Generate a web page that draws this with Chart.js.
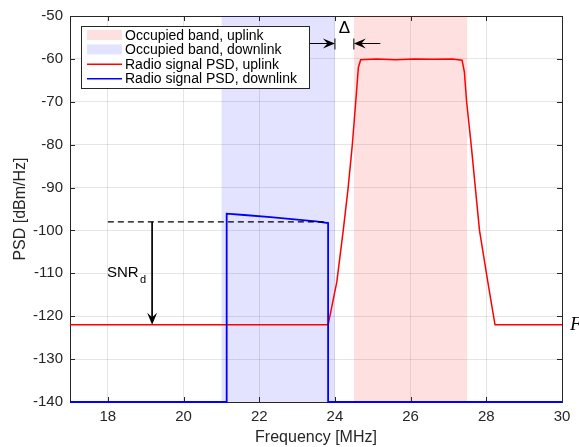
<!DOCTYPE html>
<html lang="en">
<head>
<meta charset="UTF-8" />
<title>PSD uplink / downlink</title>
<script src="https://cdn.jsdelivr.net/npm/chart.js"></script>
<style>
  html, body { margin: 0; padding: 0; background: #ffffff; }
  .chart { position: relative; width: 579px; height: 447px; }
</style>
</head>
<body>
<div class="chart"><canvas id="psdChart"></canvas></div>
<script>
// tick labels
const xTicks = [18, 20, 22, 24, 26, 28, 30];
const yTicks = [-140, -130, -120, -110, -100, -90, -80, -70, -60, -50];

// occupied bands [MHz]
const ulBand = [24.5, 27.5];
const dlBand = [21, 24];

// radio signal PSD, uplink
const ulFreq = [17, 23.82, 24.05, 24.22, 24.35, 24.46, 24.55, 24.62, 24.68, 25.1, 25.6, 26.1, 26.6, 27.1, 27.36, 27.42, 27.48, 27.6, 27.71, 27.82, 28.04, 28.23, 30];
const ulPsd = [-122, -122, -112, -100, -90, -80, -70, -62, -60.2, -60.0, -60.2, -60.0, -60.1, -60.0, -60.3, -63, -70, -80, -90, -100, -112, -122, -122];

// radio signal PSD, downlink
const dlFreq = [17, 21.14, 21.14, 21.6, 22.3, 23.0, 23.5, 23.82, 23.82, 30];
const dlPsd = [-140, -140, -96.1, -96.4, -96.9, -97.5, -97.9, -98.3, -140, -140];

// annotations
const snrLevel = -98;
const noiseLevel = -122;
const dashedFreq = [18, 23.82];
const snrArrowFreq = 19.17;
const deltaY = -56.3;

const font = "'Liberation Sans', Arial, Helvetica, sans-serif";
const ink = "#262626";
const ulShade = "rgba(255,0,0,0.12)";
const dlShade = "rgba(0,0,255,0.11)";

function bandData(b) {
  return [{ x: b[0], y: -50 }, { x: b[1], y: -50 }];
}
function pts(xs, ys) {
  return xs.map((x, i) => ({ x: x, y: ys[i] }));
}

function arrowHead(ctx, tx, ty, dir) {
  // dir: angle of pointing direction (radians)
  const len = 12, half = 5, back = 7.5;
  ctx.save();
  ctx.translate(tx, ty);
  ctx.rotate(dir);
  ctx.beginPath();
  ctx.moveTo(0, 0);
  ctx.lineTo(-len, -half);
  ctx.lineTo(-back, 0);
  ctx.lineTo(-len, half);
  ctx.closePath();
  ctx.fillStyle = "#000";
  ctx.fill();
  ctx.restore();
}

const decorations = {
  id: "decorations",
  beforeDatasetsDraw(chart) {
    const ctx = chart.ctx;
    const a = chart.chartArea;
    const X = chart.scales.x, Y = chart.scales.y;
    ctx.save();
    ctx.strokeStyle = ink;
    ctx.lineWidth = 1;
    ctx.beginPath();
    xTicks.forEach((v) => {
      const px = Math.round(X.getPixelForValue(v)) + 0.5;
      ctx.moveTo(px, a.bottom); ctx.lineTo(px, a.bottom - 5);
      ctx.moveTo(px, a.top); ctx.lineTo(px, a.top + 5);
    });
    yTicks.forEach((v) => {
      const py = Math.round(Y.getPixelForValue(v)) + 0.5;
      ctx.moveTo(a.left, py); ctx.lineTo(a.left + 5, py);
      ctx.moveTo(a.right, py); ctx.lineTo(a.right - 5, py);
    });
    ctx.stroke();
    ctx.strokeRect(Math.round(a.left) + 0.5, Math.round(a.top) + 0.5,
      Math.round(a.right - a.left), Math.round(a.bottom - a.top));
    ctx.restore();
  },
  afterDatasetsDraw(chart) {
    const ctx = chart.ctx;
    const a = chart.chartArea;
    const X = chart.scales.x, Y = chart.scales.y;
    ctx.save();

    // SNR_d arrow head + label
    arrowHead(ctx, X.getPixelForValue(snrArrowFreq), Y.getPixelForValue(noiseLevel), Math.PI / 2);
    ctx.fillStyle = "#000";
    ctx.font = "15px " + font;
    ctx.textBaseline = "alphabetic";
    ctx.textAlign = "left";
    ctx.fillText("SNR", 107, 277);
    ctx.font = "11px " + font;
    ctx.fillText("d", 140, 283);

    // Delta arrows
    const dy = Math.round(Y.getPixelForValue(deltaY)) + 0.5;
    const x24 = X.getPixelForValue(dlBand[1]);
    const x245 = X.getPixelForValue(ulBand[0]);
    ctx.strokeStyle = "#000";
    ctx.lineWidth = 1;
    ctx.beginPath();
    ctx.moveTo(X.getPixelForValue(23.12), dy); ctx.lineTo(x24 - 5, dy);
    ctx.moveTo(X.getPixelForValue(25.2), dy); ctx.lineTo(x245 + 5, dy);
    ctx.moveTo(x24, dy - 5); ctx.lineTo(x24, dy + 6);
    ctx.moveTo(x245, dy - 5); ctx.lineTo(x245, dy + 6);
    ctx.stroke();
    arrowHead(ctx, x24, dy, 0);
    arrowHead(ctx, x245, dy, Math.PI);
    ctx.font = "17px " + font;
    ctx.textAlign = "center";
    ctx.textBaseline = "middle";
    ctx.fillText("\u0394", (x24 + x245) / 2, 28);

    // clipped label at the right edge
    ctx.font = "italic 19px 'Liberation Serif', 'Times New Roman', serif";
    ctx.textAlign = "left";
    ctx.fillText("F", a.right + 8, Y.getPixelForValue(noiseLevel));

    // legend
    const lx = a.left + 11, ly = a.top + 10, lw = 228, lh = 62;
    ctx.fillStyle = "#fff";
    ctx.fillRect(lx, ly, lw, lh);
    ctx.strokeStyle = ink;
    ctx.lineWidth = 1;
    ctx.strokeRect(lx + 0.5, ly + 0.5, lw, lh);
    const items = [
      { label: "Occupied band, uplink", type: "patch", color: ulShade },
      { label: "Occupied band, downlink", type: "patch", color: dlShade },
      { label: "Radio signal PSD, uplink", type: "line", color: "#ff0000" },
      { label: "Radio signal PSD, downlink", type: "line", color: "#0000ff" },
    ];
    ctx.font = "14px " + font;
    ctx.textBaseline = "middle";
    ctx.textAlign = "left";
    items.forEach((it, i) => {
      const cy = ly + 9 + i * 14.4;
      if (it.type === "patch") {
        ctx.fillStyle = it.color;
        ctx.fillRect(lx + 6, cy - 5, 35, 10);
      } else {
        ctx.strokeStyle = it.color;
        ctx.lineWidth = 1.5;
        ctx.beginPath();
        ctx.moveTo(lx + 6, cy + 0.5); ctx.lineTo(lx + 41, cy + 0.5);
        ctx.stroke();
      }
      ctx.fillStyle = "#000";
      ctx.fillText(it.label, lx + 44, cy + 1);
    });
    ctx.restore();
  },
};

new Chart(document.getElementById("psdChart"), {
  type: "line",
  data: {
    datasets: [
      {
        label: "Occupied band, uplink",
        data: bandData(ulBand),
        fill: "start",
        backgroundColor: ulShade,
        borderWidth: 0,
        pointRadius: 0,
        order: 10,
      },
      {
        label: "Occupied band, downlink",
        data: bandData(dlBand),
        fill: "start",
        backgroundColor: dlShade,
        borderWidth: 0,
        pointRadius: 0,
        order: 10,
      },
      {
        label: "Radio signal PSD, uplink",
        data: pts(ulFreq, ulPsd),
        borderColor: "#ff0000",
        borderWidth: 1.5,
        pointRadius: 0,
        fill: false,
        order: 3,
      },
      {
        label: "Radio signal PSD, downlink",
        data: pts(dlFreq, dlPsd),
        borderColor: "#0000ff",
        borderWidth: 1.8,
        pointRadius: 0,
        fill: false,
        clip: false,
        order: 2,
      },
      {
        label: "SNR level",
        data: pts(dashedFreq, [snrLevel, snrLevel]),
        borderColor: "#000",
        borderWidth: 1.3,
        borderDash: [6, 4],
        pointRadius: 0,
        fill: false,
        order: 1,
      },
      {
        label: "SNR arrow",
        data: pts([snrArrowFreq, snrArrowFreq], [snrLevel, noiseLevel + 1.5]),
        borderColor: "#000",
        borderWidth: 1,
        pointRadius: 0,
        fill: false,
        order: 1,
      },
    ],
  },
  options: {
    responsive: true,
    maintainAspectRatio: false,
    animation: false,
    events: [],
    layout: { padding: { top: 14, right: 17, left: 0, bottom: 0 } },
    plugins: { legend: { display: false }, tooltip: { enabled: false } },
    scales: {
      x: {
        type: "linear",
        min: 17,
        max: 30,
        afterBuildTicks: (s) => { s.ticks = xTicks.map((v) => ({ value: v })); },
        afterFit: (s) => { s.height = 45; },
        ticks: { color: ink, font: { family: font, size: 15 }, padding: 6, maxRotation: 0 },
        grid: { color: "rgba(0,0,0,0.1)", drawTicks: false },
        border: { display: false },
        title: {
          display: true,
          text: "Frequency [MHz]",
          color: ink,
          font: { family: font, size: 16 },
          padding: { top: 0, bottom: 0 },
        },
      },
      y: {
        type: "linear",
        min: -140,
        max: -50,
        afterBuildTicks: (s) => { s.ticks = yTicks.map((v) => ({ value: v })); },
        afterFit: (s) => { s.width = 70; },
        ticks: { color: ink, font: { family: font, size: 15 }, padding: 7 },
        grid: { color: "rgba(0,0,0,0.1)", drawTicks: false },
        border: { display: false },
        title: {
          display: true,
          text: "PSD [dBm/Hz]",
          color: ink,
          font: { family: font, size: 16 },
          padding: { top: 11, bottom: 0 },
        },
      },
    },
  },
  plugins: [decorations],
});
</script>
</body>
</html>
